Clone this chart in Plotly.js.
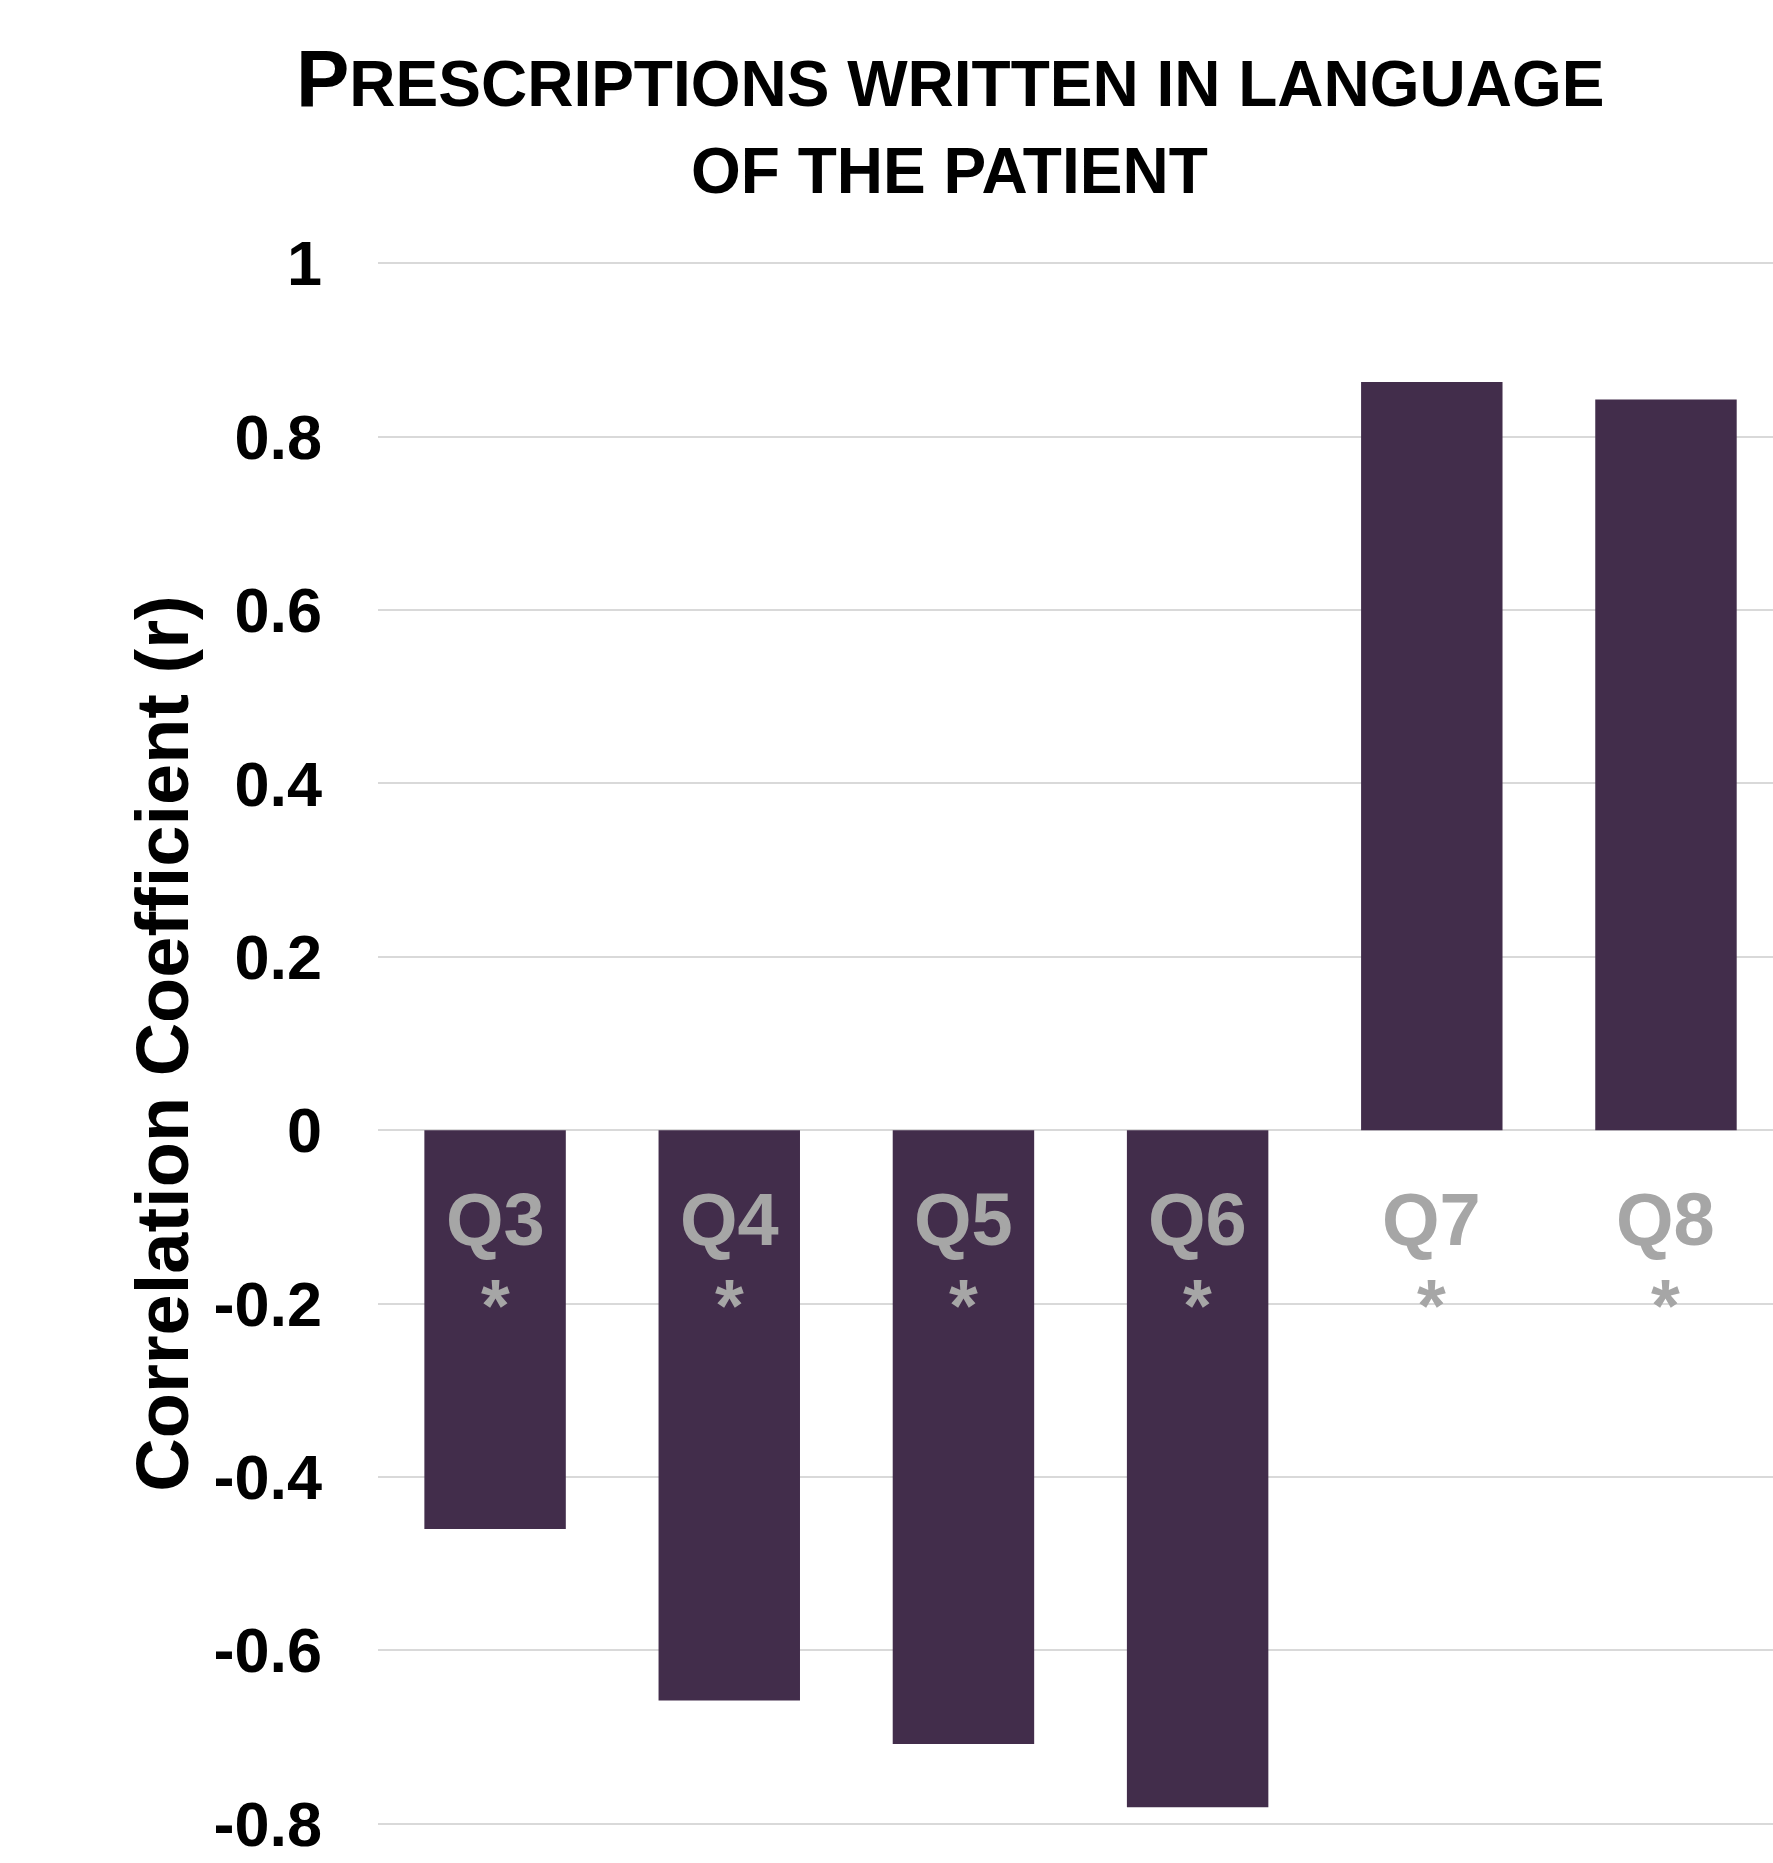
<!DOCTYPE html>
<html>
<head>
<meta charset="utf-8">
<script src="https://cdn.plot.ly/plotly-3.0.1.min.js"></script>
<style>html,body{margin:0;padding:0;background:#fff;}</style>
</head>
<body>
<div id="chart" style="width:1773px;height:1863px;"></div>
<script>
// Data
const categories = ["Q3", "Q4", "Q5", "Q6", "Q7", "Q8"];
const values = [-0.46, -0.658, -0.708, -0.781, 0.863, 0.843];
const marks = ["*", "*", "*", "*", "*", "*"];
const yTickVals = [-0.8, -0.6, -0.4, -0.2, 0, 0.2, 0.4, 0.6, 0.8, 1];
const yTickText = ["-0.8", "-0.6", "-0.4", "-0.2", "0", "0.2", "0.4", "0.6", "0.8", "1"];

const FONT = "Liberation Sans, Arial, sans-serif";
const barColor = "#422D4B";
const labelGray = "#A6A6A6";

const trace = {
  type: "bar",
  x: categories,
  y: values,
  marker: { color: barColor, line: { width: 0 } },
  hoverinfo: "x+y"
};

const annotations = [];
categories.forEach((c, i) => {
  annotations.push({
    x: c, y: -0.103, xref: "x", yref: "y",
    text: "<b>" + c + "</b>", showarrow: false,
    font: { family: FONT, size: 74, color: labelGray },
    xanchor: "center", yanchor: "middle"
  });
  annotations.push({
    x: c, y: -0.202, xref: "x", yref: "y",
    text: "<b>" + marks[i] + "</b>", showarrow: false,
    font: { family: FONT, size: 74, color: labelGray },
    xanchor: "center", yanchor: "middle"
  });
});

const PT = 259, PH = 1569;
// Title lines (small caps style)
annotations.push({
  x: 0.41, y: (PT + PH - 79) / PH, xref: "paper", yref: "paper",
  text: '<b><span style="font-size:80px">P</span>RESCRIPTIONS WRITTEN IN LANGUAGE</b>',
  showarrow: false, font: { family: FONT, size: 64, color: "#000" },
  xanchor: "center", yanchor: "middle"
});
annotations.push({
  x: 0.41, y: (PT + PH - 171) / PH, xref: "paper", yref: "paper",
  text: "<b>OF THE PATIENT</b>",
  showarrow: false, font: { family: FONT, size: 64, color: "#000" },
  xanchor: "center", yanchor: "middle"
});

const layout = {
  width: 1773, height: 1863,
  margin: { l: 378, r: 0, t: PT, b: 1863 - PT - PH, pad: 0 },
  paper_bgcolor: "#fff", plot_bgcolor: "#fff",
  showlegend: false,
  bargap: 0.396,
  xaxis: {
    type: "category",
    range: [-0.5, 5.457],
    showticklabels: false,
    showgrid: false, zeroline: false, showline: false, ticks: ""
  },
  yaxis: {
    range: [-0.805, 1.005],
    tickvals: yTickVals, ticktext: yTickText,
    tickfont: { family: FONT, size: 63, color: "#000", weight: "bold" },
    ticklabelstandoff: 55,
    showgrid: true, gridcolor: "#D9D9D9", gridwidth: 2,
    zeroline: true, zerolinecolor: "#D9D9D9", zerolinewidth: 2,
    showline: false, ticks: "",
    automargin: false,
    title: {
      text: "<b>Correlation Coefficient (r)</b>",
      font: { family: FONT, size: 74, color: "#000" },
      standoff: 0
    }
  },
  annotations: annotations
};

Plotly.newPlot("chart", [trace], layout, { displayModeBar: false, staticPlot: true });
</script>
</body>
</html>
